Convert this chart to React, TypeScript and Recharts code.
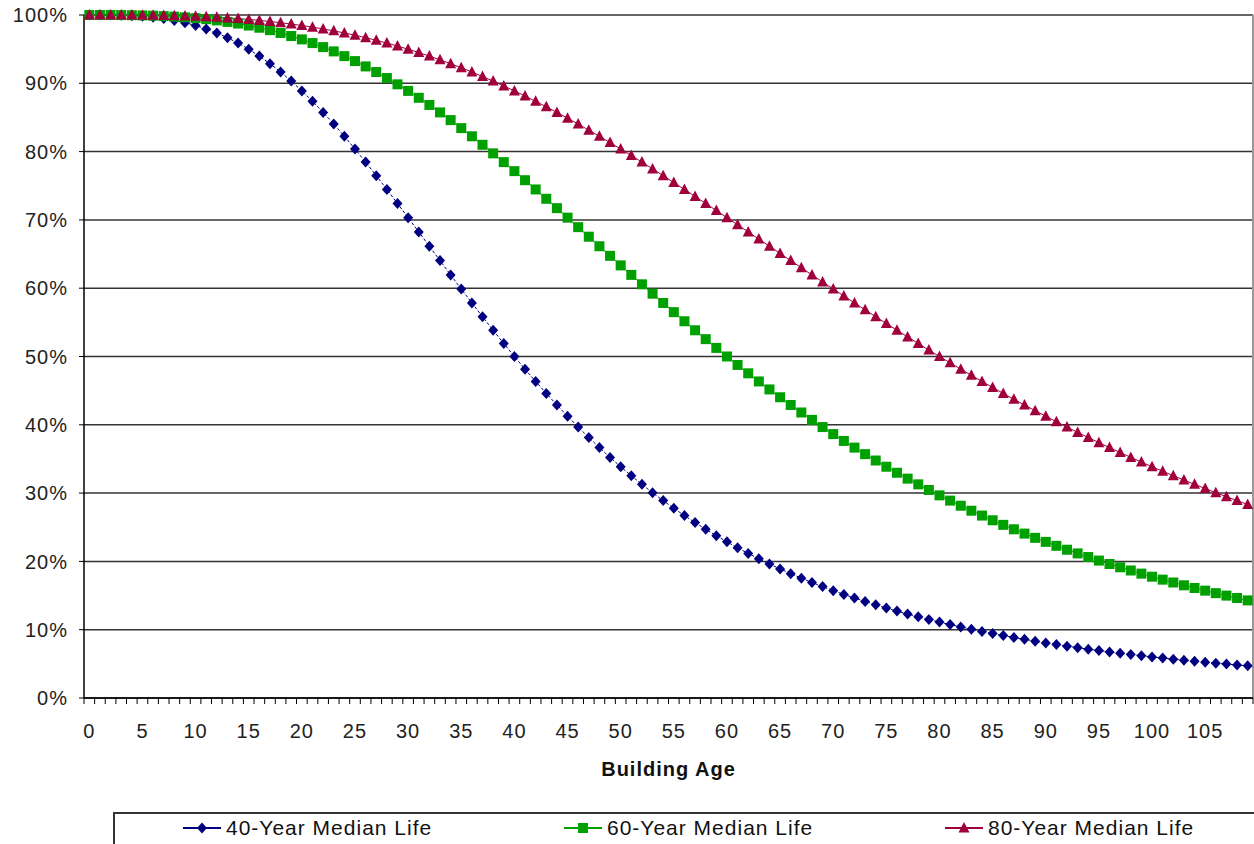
import { LineChart, Line, XAxis, YAxis, CartesianGrid, ReferenceLine, Label } from 'recharts'

// Building age in years, one category per year.
const AGES = [
  0, 1, 2, 3, 4, 5, 6, 7, 8, 9,
  10, 11, 12, 13, 14, 15, 16, 17, 18, 19,
  20, 21, 22, 23, 24, 25, 26, 27, 28, 29,
  30, 31, 32, 33, 34, 35, 36, 37, 38, 39,
  40, 41, 42, 43, 44, 45, 46, 47, 48, 49,
  50, 51, 52, 53, 54, 55, 56, 57, 58, 59,
  60, 61, 62, 63, 64, 65, 66, 67, 68, 69,
  70, 71, 72, 73, 74, 75, 76, 77, 78, 79,
  80, 81, 82, 83, 84, 85, 86, 87, 88, 89,
  90, 91, 92, 93, 94, 95, 96, 97, 98, 99,
  100, 101, 102, 103, 104, 105, 106, 107, 108, 109,
]

// Share of buildings still standing (%).
const LIFE_40 = [
  100, 100, 99.99, 99.96, 99.9, 99.81, 99.66, 99.47, 99.21, 98.87,
  98.46, 97.96, 97.37, 96.68, 95.89, 94.99, 93.98, 92.87, 91.65, 90.32,
  88.89, 87.36, 85.74, 84.03, 82.24, 80.38, 78.46, 76.48, 74.46, 72.41,
  70.33, 68.24, 66.14, 64.04, 61.95, 59.88, 57.84, 55.82, 53.84, 51.9,
  50.0, 48.15, 46.35, 44.6, 42.9, 41.26, 39.67, 38.14, 36.66, 35.23,
  33.86, 32.55, 31.28, 30.06, 28.9, 27.78, 26.71, 25.68, 24.7, 23.76,
  22.86, 21.99, 21.17, 20.38, 19.62, 18.9, 18.21, 17.55, 16.91, 16.31,
  15.72, 15.17, 14.64, 14.13, 13.64, 13.17, 12.72, 12.3, 11.88, 11.49,
  11.11, 10.75, 10.4, 10.07, 9.75, 9.44, 9.14, 8.86, 8.59, 8.32,
  8.07, 7.83, 7.59, 7.37, 7.15, 6.95, 6.75, 6.55, 6.37, 6.19,
  6.02, 5.85, 5.69, 5.53, 5.38, 5.24, 5.1, 4.96, 4.83, 4.71,
]

const LIFE_60 = [
  100, 100, 100, 99.99, 99.97, 99.94, 99.9, 99.84, 99.76, 99.66,
  99.54, 99.39, 99.21, 98.99, 98.75, 98.46, 98.14, 97.78, 97.37, 96.92,
  96.43, 95.89, 95.3, 94.67, 93.98, 93.25, 92.47, 91.65, 90.77, 89.85,
  88.89, 87.88, 86.83, 85.74, 84.61, 83.44, 82.24, 81.0, 79.74, 78.46,
  77.14, 75.81, 74.46, 73.09, 71.72, 70.33, 68.94, 67.54, 66.14, 64.74,
  63.34, 61.95, 60.57, 59.2, 57.84, 56.49, 55.16, 53.84, 52.54, 51.26,
  50.0, 48.76, 47.54, 46.35, 45.18, 44.03, 42.9, 41.8, 40.72, 39.67,
  38.64, 37.64, 36.66, 35.7, 34.77, 33.86, 32.98, 32.12, 31.28, 30.46,
  29.67, 28.9, 28.15, 27.42, 26.71, 26.02, 25.35, 24.7, 24.07, 23.45,
  22.86, 22.28, 21.71, 21.17, 20.64, 20.12, 19.62, 19.14, 18.67, 18.21,
  17.76, 17.33, 16.91, 16.5, 16.11, 15.72, 15.35, 14.99, 14.64, 14.29,
]

const LIFE_80 = [
  100, 100, 100, 99.99, 99.99, 99.98, 99.96, 99.93, 99.9, 99.86,
  99.81, 99.74, 99.66, 99.57, 99.47, 99.35, 99.21, 99.05, 98.87, 98.68,
  98.46, 98.22, 97.96, 97.68, 97.37, 97.04, 96.68, 96.3, 95.89, 95.45,
  94.99, 94.5, 93.98, 93.44, 92.87, 92.27, 91.65, 91.0, 90.32, 89.62,
  88.89, 88.14, 87.36, 86.56, 85.74, 84.89, 84.03, 83.14, 82.24, 81.32,
  80.38, 79.42, 78.46, 77.47, 76.48, 75.47, 74.46, 73.44, 72.41, 71.37,
  70.33, 69.28, 68.24, 67.19, 66.14, 65.09, 64.04, 62.99, 61.95, 60.91,
  59.88, 58.86, 57.84, 56.83, 55.82, 54.83, 53.84, 52.87, 51.9, 50.94,
  50.0, 49.07, 48.15, 47.24, 46.35, 45.47, 44.6, 43.74, 42.9, 42.07,
  41.26, 40.46, 39.67, 38.89, 38.14, 37.39, 36.66, 35.94, 35.23, 34.54,
  33.86, 33.2, 32.55, 31.91, 31.28, 30.67, 30.06, 29.48, 28.9, 28.33,
]

const X_LABEL_TICKS = [0, 5, 10, 15, 20, 25, 30, 35, 40, 45, 50, 55, 60, 65, 70, 75, 80, 85, 90, 95, 100, 105]
const Y_TICKS = [0, 10, 20, 30, 40, 50, 60, 70, 80, 90, 100]

// Excel-style category axis: tick marks sit between the categories.
const BOUNDARY_TICKS = [...AGES.map(a => a - 0.5), AGES[AGES.length - 1] + 0.5]
const X_DOMAIN = [BOUNDARY_TICKS[0], BOUNDARY_TICKS[BOUNDARY_TICKS.length - 1]]

type Shape = 'diamond' | 'square' | 'triangle'

const SERIES: { key: string; name: string; color: string; shape: Shape; dash?: string }[] = [
  { key: 'life40', name: '40-Year Median Life', color: '#000080', shape: 'diamond', dash: '3 2' },
  { key: 'life60', name: '60-Year Median Life', color: '#00A000', shape: 'square' },
  { key: 'life80', name: '80-Year Median Life', color: '#A0003C', shape: 'triangle' },
]

const data = AGES.map((age, i) => ({
  age,
  life40: LIFE_40[i],
  life60: LIFE_60[i],
  life80: LIFE_80[i],
}))

const FONT = '"Liberation Sans", Arial, sans-serif'
const TEXT = '#222'

function Marker({ cx, cy, shape, color }: { cx: number; cy: number; shape: Shape; color: string }) {
  if (cx == null || cy == null) return null
  if (shape === 'diamond') {
    return <path d={`M${cx},${cy - 5.5}L${cx + 5},${cy}L${cx},${cy + 5.5}L${cx - 5},${cy}Z`} fill={color} />
  }
  if (shape === 'square') {
    return <rect x={cx - 5} y={cy - 5} width={10} height={10} fill={color} />
  }
  return <path d={`M${cx},${cy - 6}L${cx + 5.5},${cy + 4.5}L${cx - 5.5},${cy + 4.5}Z`} fill={color} />
}

// Tick marks at every category boundary; the label goes in the middle of the
// category to the right of the boundary, every fifth year.
function AgeTick(props: any) {
  const { x, y, payload, width } = props
  const age = payload.value + 0.5
  if (!X_LABEL_TICKS.includes(age)) return <g />
  const half = width / (BOUNDARY_TICKS.length - 1) / 2
  return (
    <text x={x + half} y={y} dy="0.71em" textAnchor="middle" fill={TEXT} fontSize={20} letterSpacing={1}>
      {age}
    </text>
  )
}

function LegendBox() {
  return (
    <div
      style={{
        position: 'absolute', left: 113, top: 812, width: 1141, height: 40,
        borderTop: '2px solid #333', borderLeft: '2px solid #333',
        fontFamily: FONT, fontSize: 21, letterSpacing: 1, color: '#111', boxSizing: 'border-box',
      }}
    >
      {SERIES.map((s, i) => (
        <div key={s.key} style={{ position: 'absolute', left: 67 + i * 381, top: 2, display: 'flex', alignItems: 'center', whiteSpace: 'nowrap' }}>
          <svg width={40} height={24} style={{ marginRight: 4 }}>
            <line x1={1} y1={12} x2={39} y2={12} stroke={s.color} strokeWidth={2} />
            <Marker cx={20} cy={12} shape={s.shape} color={s.color} />
          </svg>
          <span>{s.name}</span>
        </div>
      ))}
    </div>
  )
}

export default function App() {
  return (
    <div style={{ position: 'absolute', left: 0, top: 0, width: 1254, height: 844, overflow: 'hidden', background: '#fff' }}>
      <LineChart
        width={1254}
        height={844}
        data={data}
        margin={{ top: 15, right: 1, left: 0, bottom: 66 }}
        style={{ fontFamily: FONT }}
      >
        <CartesianGrid vertical={false} stroke="#333" strokeWidth={1.5} />
        <XAxis
          type="number"
          dataKey="age"
          domain={X_DOMAIN}
          ticks={BOUNDARY_TICKS}
          interval={0}
          tickSize={6}
          tickMargin={20}
          tickLine={{ stroke: '#000' }}
          axisLine={{ stroke: '#000', strokeWidth: 1.5 }}
          tick={<AgeTick />}
          height={80}
          allowDataOverflow
        >
          <Label value="Building Age" position="insideBottom" offset={2} fill="#111" fontSize={20} fontWeight="bold" letterSpacing={1} />
        </XAxis>
        <YAxis
          type="number"
          domain={[0, 100]}
          ticks={Y_TICKS}
          interval={0}
          width={84}
          tickSize={5}
          tickMargin={11}
          tickLine={{ stroke: '#000' }}
          axisLine={{ stroke: '#000', strokeWidth: 1.5 }}
          tick={{ fill: TEXT, fontSize: 20, letterSpacing: 1 }}
          tickFormatter={(v) => `${v}%`}
        />
        <ReferenceLine x={X_DOMAIN[1]} stroke="#999" strokeWidth={2} />
        {SERIES.map(s => (
          <Line
            key={s.key}
            type="linear"
            dataKey={s.key}
            name={s.name}
            stroke={s.color}
            strokeWidth={1}
            strokeDasharray={s.dash}
            isAnimationActive={false}
            activeDot={false}
            dot={(p: any) => (
              <Marker key={`${s.key}-${p.index}`} cx={p.cx} cy={p.cy} shape={s.shape} color={s.color} />
            )}
          />
        ))}
      </LineChart>
      <LegendBox />
    </div>
  )
}
